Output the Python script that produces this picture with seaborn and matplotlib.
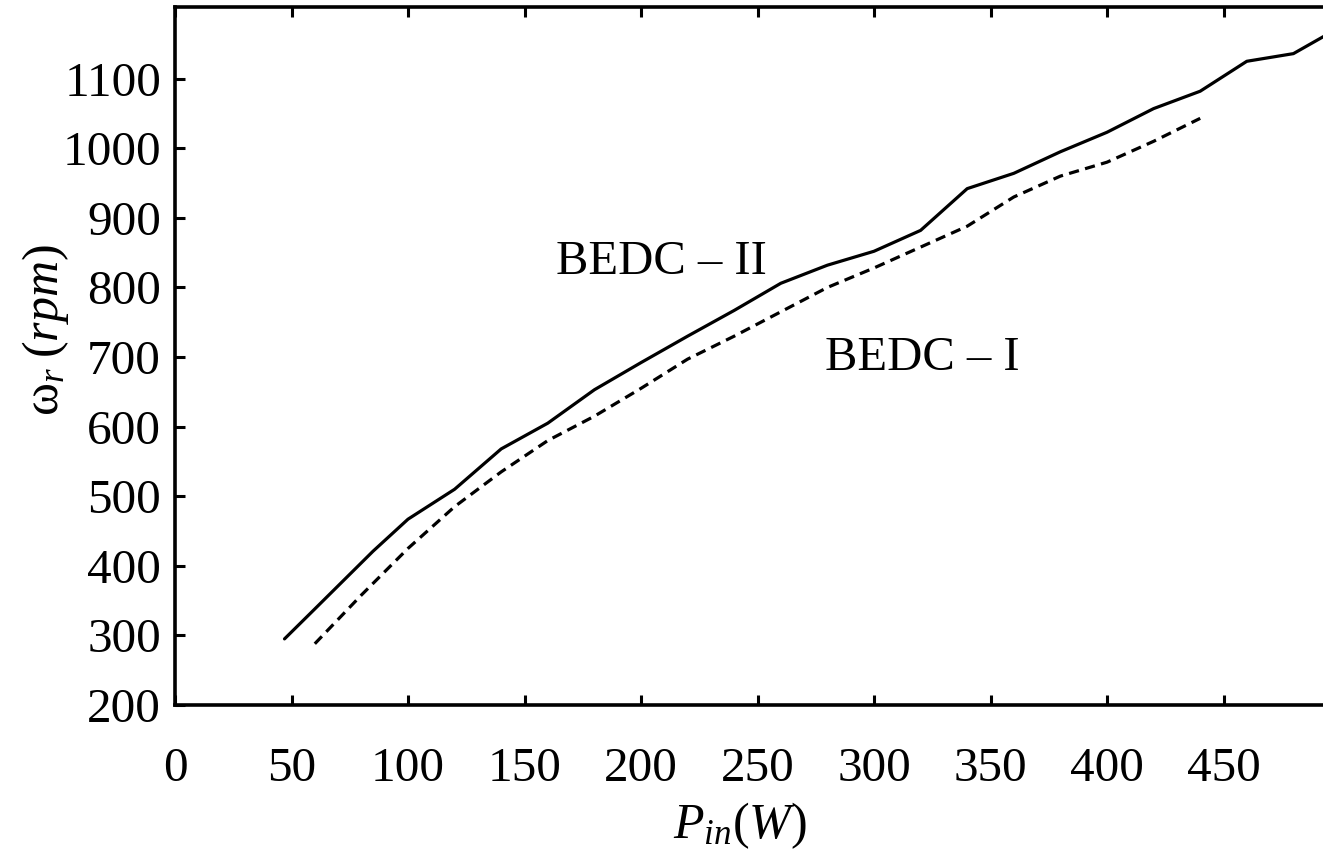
import numpy as np
import pandas as pd
import matplotlib
matplotlib.use("Agg")
import matplotlib.pyplot as plt
import seaborn as sns

# BEDC-II (solid)
p_in_2 = [47, 60, 85, 100, 120, 140, 160, 180, 200, 220, 240, 260, 280, 300,
          320, 340, 360, 380, 400, 420, 440, 460, 480, 500]
w_r_2 = [295, 338, 421, 467, 510, 568, 605, 653, 692, 730, 767, 806, 832, 852,
         882, 942, 964, 995, 1023, 1057, 1082, 1125, 1136, 1174]

# BEDC-I (dashed)
p_in_1 = [60, 80, 100, 120, 140, 160, 180, 200, 220, 240, 260, 280, 300, 320,
          340, 360, 380, 400, 420, 440]
w_r_1 = [288, 358, 425, 485, 535, 580, 615, 655, 697, 730, 765, 800, 828, 858,
         888, 930, 960, 980, 1010, 1043]

x_ticks = [0, 50, 100, 150, 200, 250, 300, 350, 400, 450]
y_ticks = [200, 300, 400, 500, 600, 700, 800, 900, 1000, 1100]

sns.set_theme(style="ticks")
plt.rcParams["font.family"] = ["Liberation Serif", "DejaVu Serif"]
plt.rcParams["mathtext.fontset"] = "custom"
plt.rcParams["mathtext.rm"] = "Liberation Serif"
plt.rcParams["mathtext.it"] = "Liberation Serif:italic"
plt.rcParams["text.color"] = "black"
plt.rcParams["axes.labelcolor"] = "black"

fig = plt.figure(figsize=(13.23, 8.55), dpi=100)
ax = fig.add_axes([175/1323, 1 - 705/855, 1 - 175/1323, (705 - 7)/855])

df2 = pd.DataFrame({"P": p_in_2, "w": w_r_2})
df1 = pd.DataFrame({"P": p_in_1, "w": w_r_1})
sns.lineplot(data=df2, x="P", y="w", ax=ax, color="black", lw=2.3, sort=False)
sns.lineplot(data=df1, x="P", y="w", ax=ax, color="black", lw=2.3, sort=False,
             dashes=False, linestyle=(0, (3.2, 2)))

ax.set_xlim(0, 492.7)
ax.set_ylim(200, 1203)
ax.set_xticks(x_ticks)
ax.set_yticks(y_ticks)
ax.tick_params(axis="both", direction="in", length=7.5, width=2.2,
               labelsize=35.5, colors="black")
ax.tick_params(axis="x", top=True, pad=30)
ax.tick_params(axis="y", pad=10)
for s in ["left", "bottom", "top"]:
    ax.spines[s].set_linewidth(2.6)
    ax.spines[s].set_color("black")
ax.spines["right"].set_visible(False)

ax.set_xlabel(r"$P_{in}(W)$", fontsize=36)
ax.set_ylabel(r"$\mathrm{\omega}_r\;(rpm)$", fontsize=36)
ax.xaxis.set_label_coords(0.492, -0.137)
ax.yaxis.set_label_coords(-0.113, 0.537)
ax.yaxis.label.set_va("center")
ax.xaxis.label.set_va("top")

ax.text(163.6, 836, "BEDC – II", fontsize=35, ha="left", va="center", color="black")
ax.text(279, 699, "BEDC – I", fontsize=35, ha="left", va="center", color="black")

fig.savefig("out.png", dpi=100, facecolor="white")
